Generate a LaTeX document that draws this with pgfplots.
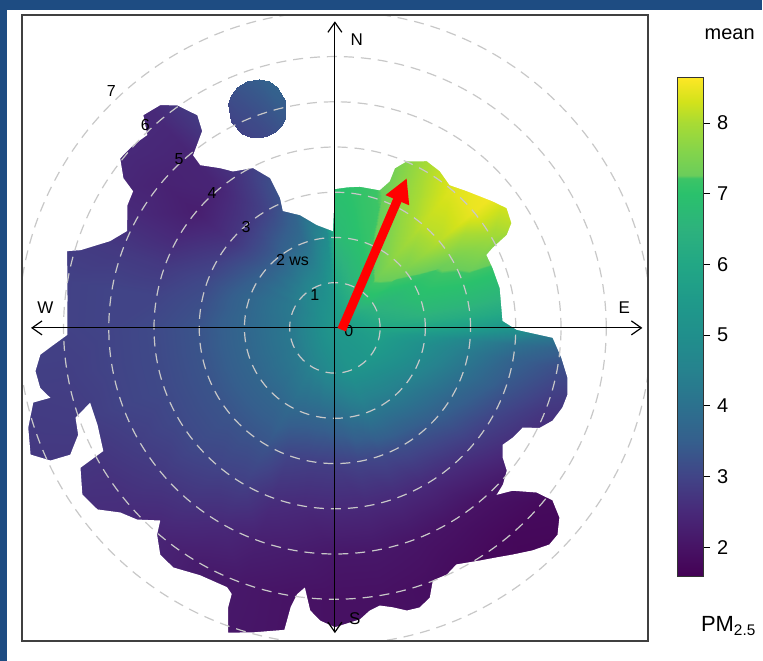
\documentclass[border=0pt]{standalone}
\usepackage{fontspec}
\setmainfont{Liberation Sans}
\usepackage{pgfplots}
\pgfplotsset{compat=1.18}
\usetikzlibrary{arrows.meta}
\definecolor{frameblue}{RGB}{30,76,130}
\definecolor{gridgray}{RGB}{200,200,200}
\pgfplotsset{colormap={pm}{
 rgb255(0pt)=(68,1,84)
 rgb255(42pt)=(71,19,101)
 rgb255(92pt)=(72,41,121)
 rgb255(142pt)=(65,68,135)
 rgb255(192pt)=(53,95,141)
 rgb255(242pt)=(44,113,142)
 rgb255(292pt)=(38,130,142)
 rgb255(342pt)=(32,143,140)
 rgb255(392pt)=(31,154,138)
 rgb255(442pt)=(34,167,133)
 rgb255(492pt)=(45,178,125)
 rgb255(542pt)=(42,193,108)
 rgb255(564pt)=(60,196,102)
 rgb255(568pt)=(106,205,91)
 rgb255(602pt)=(132,212,75)
 rgb255(642pt)=(168,219,52)
 rgb255(672pt)=(210,226,27)
 rgb255(706pt)=(253,231,37)
}}
\begin{document}
\begin{tikzpicture}
\fill[white] (0,0) rectangle (381.5pt,331pt);
\fill[frameblue] (0,0) rectangle (3.5pt,331pt);
\fill[frameblue] (0,326pt) rectangle (381.5pt,331pt);
\begin{axis}[
 at={(11pt,10pt)}, anchor=south west,
 width=313.5pt, height=313.5pt, scale only axis,
 view={0}{90}, hide axis,
 xmin=-6.92, xmax=6.92, ymin=-6.92, ymax=6.92, zmin=-1, zmax=1,
 colormap name=pm, point meta min=1.58, point meta max=8.64,
 colorbar,
 colorbar style={
  at={(parent axis.north east)}, anchor=north west,
  xshift=6.35pt, yshift=-31.5pt,
  width=12.8pt, height=250pt, scale only axis,
  ytick={2,3,4,5,6,7,8}, ytick pos=right,
  tick align=outside, major tick length=3.5pt,
  yticklabel style={font=\fontsize{10}{12}\selectfont, /pgf/number format/assume math mode=true},
  axis line style={draw=black!80, line width=0.5pt},
  tick style={black, line width=0.6pt},
 },
]
% concentration field: compass angle t (deg), wind speed r, mean PM2.5 v
\addplot3[surf, shader=interp, mark=none, point meta=explicit]
 table[x expr={\thisrow{r}*sin(\thisrow{t})}, y expr={\thisrow{r}*cos(\thisrow{t})}, z expr=0, meta=v] {
t r v
0 0 5.4
0 1 6.0
0 2 6.7
0 3 6.95
0 4 7.0
0 5 7.0
0 6 7.0
0 7.5 7.0

5 0 5.4
5 1 6.15
5 2 6.8
5 3 7.0
5 4 7.1
5 5 7.1
5 6 7.1
5 7.5 7.1

10 0 5.4
10 1 6.3
10 2 6.9
10 3 7.1
10 4 7.15
10 5 7.2
10 6 7.2
10 7.5 7.2

20 0 5.4
20 1 6.5
20 2 7.1
20 3 7.25
20 4 7.45
20 5 7.5
20 6 7.5
20 7.5 7.5

30 0 5.4
30 1 6.7
30 2 7.4
30 3 7.8
30 4 8.0
30 5 8.1
30 6 8.1
30 7.5 8.1

40 0 5.4
40 1 7.0
40 2 7.7
40 3 8.15
40 4 8.4
40 5 8.5
40 6 8.5
40 7.5 8.5

50 0 5.4
50 1 6.9
50 2 7.45
50 3 8.1
50 4 8.5
50 5 8.6
50 6 8.6
50 7.5 8.6

60 0 5.4
60 1 6.6
60 2 7.0
60 3 7.4
60 4 7.9
60 5 8.3
60 6 8.4
60 7.5 8.4

70 0 5.4
70 1 6.4
70 2 6.9
70 3 7.05
70 4 7.1
70 5 7.2
70 6 7.2
70 7.5 7.2

80 0 5.4
80 1 6.2
80 2 6.6
80 3 6.6
80 4 6.5
80 5 6.3
80 6 6.3
80 7.5 6.3

85 0 5.4
85 1 6.1
85 2 6.3
85 3 6.2
85 4 6.0
85 5 5.6
85 6 5.5
85 7.5 5.5

90 0 5.4
90 1 5.95
90 2 5.85
90 3 5.6
90 4 5.2
90 5 4.6
90 6 4.3
90 7.5 4.2

95 0 5.4
95 1 5.8
95 2 5.3
95 3 4.6
95 4 4.0
95 5 3.6
95 6 3.4
95 7.5 3.4

100 0 5.4
100 1 5.7
100 2 5.0
100 3 4.3
100 4 3.6
100 5 3.2
100 6 3.0
100 7.5 3.0

110 0 5.4
110 1 5.6
110 2 4.8
110 3 4.0
110 4 3.3
110 5 2.8
110 6 2.6
110 7.5 2.6

120 0 5.4
120 1 5.5
120 2 4.6
120 3 3.7
120 4 3.0
120 5 2.5
120 6 2.2
120 7.5 2.1

130 0 5.4
130 1 5.4
130 2 4.4
130 3 3.5
130 4 2.8
130 5 2.2
130 6 1.8
130 7.5 1.7

140 0 5.4
140 1 5.3
140 2 4.3
140 3 3.3
140 4 2.6
140 5 2.0
140 6 1.75
140 7.5 1.65

150 0 5.4
150 1 5.25
150 2 4.2
150 3 3.2
150 4 2.5
150 5 2.0
150 6 1.8
150 7.5 1.8

160 0 5.4
160 1 5.2
160 2 4.2
160 3 3.1
160 4 2.5
160 5 2.05
160 6 1.9
160 7.5 1.9

170 0 5.4
170 1 5.05
170 2 4.0
170 3 3.0
170 4 2.5
170 5 2.1
170 6 1.95
170 7.5 1.95

180 0 5.4
180 1 4.9
180 2 3.8
180 3 2.9
180 4 2.5
180 5 2.1
180 6 1.95
180 7.5 1.95

190 0 5.4
190 1 4.75
190 2 3.7
190 3 2.9
190 4 2.5
190 5 2.2
190 6 2.0
190 7.5 2.0

200 0 5.4
200 1 4.6
200 2 3.7
200 3 3.0
200 4 2.6
200 5 2.3
200 6 2.1
200 7.5 2.1

210 0 5.4
210 1 4.5
210 2 3.8
210 3 3.3
210 4 2.9
210 5 2.5
210 6 2.2
210 7.5 2.2

220 0 5.4
220 1 4.4
220 2 3.7
220 3 3.3
220 4 3.0
220 5 2.7
220 6 2.4
220 7.5 2.4

230 0 5.4
230 1 4.3
230 2 3.7
230 3 3.3
230 4 3.1
230 5 2.8
230 6 2.6
230 7.5 2.5

240 0 5.4
240 1 4.25
240 2 3.7
240 3 3.3
240 4 3.1
240 5 2.9
240 6 2.7
240 7.5 2.7

250 0 5.4
250 1 4.2
250 2 3.7
250 3 3.3
250 4 3.1
250 5 3.0
250 6 2.85
250 7.5 2.8

260 0 5.4
260 1 4.2
260 2 3.7
260 3 3.3
260 4 3.1
260 5 3.0
260 6 2.9
260 7.5 2.9

270 0 5.4
270 1 4.2
270 2 3.7
270 3 3.3
270 4 3.1
270 5 3.0
270 6 2.95
270 7.5 2.9

280 0 5.4
280 1 4.2
280 2 3.7
280 3 3.2
280 4 3.0
280 5 3.0
280 6 2.95
280 7.5 2.9

290 0 5.4
290 1 4.25
290 2 3.7
290 3 3.1
290 4 2.8
290 5 2.8
290 6 2.8
290 7.5 2.8

300 0 5.4
300 1 4.3
300 2 3.6
300 3 2.9
300 4 2.5
300 5 2.5
300 6 2.5
300 7.5 2.5

310 0 5.4
310 1 4.45
310 2 3.5
310 3 2.7
310 4 2.25
310 5 2.35
310 6 2.5
310 7.5 2.5

320 0 5.4
320 1 4.6
320 2 3.5
320 3 2.8
320 4 2.4
320 5 2.4
320 6 2.5
320 7.5 2.5

330 0 5.4
330 1 4.75
330 2 3.7
330 3 3.0
330 4 2.8
330 5 2.9
330 6 3.0
330 7.5 3.0

340 0 5.4
340 1 4.85
340 2 3.9
340 3 3.4
340 4 3.2
340 5 3.2
340 6 3.2
340 7.5 3.2

350 0 5.4
350 1 5.1
350 2 4.6
350 3 4.0
350 4 3.6
350 5 3.5
350 6 3.5
350 7.5 3.5

355 0 5.4
355 1 5.3
355 2 4.9
355 3 4.4
355 4 4.0
355 5 3.8
355 6 3.8
355 7.5 3.8

360 0 5.4
360 1 6.0
360 2 6.7
360 3 6.95
360 4 7.0
360 5 7.0
360 6 7.0
360 7.5 7.0
};
% outline of the data region (everything outside is white)
\addplot3[fill=white, draw=none, mark=none, even odd rule]
 table[x expr={\thisrow{r}*sin(\thisrow{t})}, y expr={\thisrow{r}*cos(\thisrow{t})}, z expr=0] {
t r
0 3.07
5 3.12
10 3.17
18 3.20
20.5 3.46
20.6 3.77
23.3 4.01
28.9 4.21
33.8 4.17
38.8 4.05
43.9 4.20
51.2 4.47
55.1 4.63
59.3 4.54
61.6 4.32
63.1 3.91
64.3 3.72
69.2 3.73
76.4 3.75
87.6 3.71
90.6 4.02
92.6 4.82
97.5 5.05
102.1 5.26
106 5.35
109.3 5.33
113.1 5.23
116 5.04
118 4.70
121.7 4.62
124.9 4.52
127.7 4.69
129.7 4.94
133 5.08
135.9 5.14
132.5 5.33
129.2 5.76
128.4 6.14
130.2 6.50
132.9 6.72
135.3 6.74
138.4 6.58
141.9 6.37
144.8 6.21
148.1 6.06
152.8 5.88
155.6 5.99
158.8 5.99
160.6 6.32
163.1 6.46
165.7 6.45
168.3 6.31
170.8 6.22
173 6.30
175.1 6.47
180 6.62
182.9 6.48
185 6.27
186.6 5.78
188.1 5.95
189 6.25
189.5 6.77
195 6.97
199.3 7.14
200.9 6.62
201.2 6.31
202.6 6.21
208.6 6.23
214 6.39
217.6 6.33
220.7 6.03
222.2 5.75
225.9 6.09
229.3 6.26
232.6 6.61
236.6 6.69
241.2 6.42
242 5.80
247.8 5.67
253 5.66
250.9 6.07
247.4 6.15
244.4 6.49
245 6.94
247.4 7.29
252 7.13
256.1 6.87
256.2 6.48
258.5 6.65
261.8 6.69
264.8 6.54
266.5 6.24
268.5 5.92
276.4 5.95
286 6.16
287 5.88
291.1 5.33
295 5.07
300.6 5.33
304.1 5.39
305.3 5.73
308.3 6.05
312.2 6.02
315.8 5.95
318 6.33
321.9 6.26
324.7 6.03
327.1 5.60
326 5.25
320.6 4.94
320.4 4.67
324.3 4.35
326.9 4.13
332.9 3.97
336.6 3.61
337.1 3.12
336 2.83
342.8 2.61
350 2.31
358.8 2.14
360 3.07
360 12
330 12
300 12
270 12
240 12
210 12
180 12
150 12
120 12
90 12
60 12
30 12
0 12
};
% detached cell to the north-north-west
\addplot3[surf, shader=interp, mark=none, point meta=explicit]
 table[x expr={\thisrow{r}*sin(\thisrow{t})}, y expr={\thisrow{r}*cos(\thisrow{t})}, z expr=0, meta=v] {
t r v
333.25 5.11 3.0
333.25 5.11 3.0
333.25 5.11 3.0

334.5 4.758 3.0
334.5 5.122 3.05
334.5 5.486 3.1

336 4.625 3.0
336 5.134 3.1
336 5.643 3.2

338 4.535 3.05
338 5.145 3.15
338 5.755 3.3

340.5 4.5 3.1
340.5 5.15 3.25
340.5 5.8 3.4

343 4.535 3.2
343 5.145 3.35
343 5.755 3.5

345 4.625 3.3
345 5.134 3.45
345 5.643 3.6

346.5 4.758 3.35
346.5 5.122 3.5
346.5 5.486 3.6

347.75 5.11 3.45
347.75 5.11 3.45
347.75 5.11 3.45
};
\pgfplotsinvokeforeach{1,...,7}{
 \draw[gridgray, line width=0.6pt, dash pattern=on 5pt off 3.5pt] (axis cs:0,0,0) circle[radius=#1*22.652pt];
}
\draw[black, line width=0.6pt, {Straight Barb[length=5pt,width=7pt]}-{Straight Barb[length=5pt,width=7pt]}] (axis cs:0,-6.75,0) -- (axis cs:0,6.78,0);
\draw[black, line width=0.6pt, {Straight Barb[length=5pt,width=7pt]}-{Straight Barb[length=5pt,width=7pt]}] (axis cs:-6.72,0,0) -- (axis cs:6.8,0,0);
\node[font=\fontsize{8.5}{10}\selectfont] at (axis cs:0.486,6.38,0) {N};
\node[font=\fontsize{8.5}{10}\selectfont] at (axis cs:0.441,-6.42,0) {S};
\node[font=\fontsize{8.5}{10}\selectfont] at (axis cs:-6.40,0.44,0) {W};
\node[font=\fontsize{8.5}{10}\selectfont] at (axis cs:6.40,0.44,0) {E};
\node[font=\fontsize{8}{10}\selectfont] at (axis cs:-4.945,5.232,0) {7};
\node[font=\fontsize{8}{10}\selectfont] at (axis cs:-4.194,4.481,0) {6};
\node[font=\fontsize{8}{10}\selectfont] at (axis cs:-3.444,3.731,0) {5};
\node[font=\fontsize{8}{10}\selectfont] at (axis cs:-2.715,2.980,0) {4};
\node[font=\fontsize{8}{10}\selectfont] at (axis cs:-1.965,2.230,0) {3};
\node[font=\fontsize{8}{10}\selectfont] at (axis cs:-0.938,1.501,0) {2 ws};
\node[font=\fontsize{8}{10}\selectfont] at (axis cs:-0.442,0.728,0) {1};
\node[font=\fontsize{8}{10}\selectfont] at (axis cs:0.309,-0.066,0) {0};
\addplot3[red, line width=4.5pt, mark=none, -{Triangle[length=12pt,width=12pt]}] coordinates {(0.15,-0.04,0) (1.59,3.31,0)};
\end{axis}
\draw[black!75, line width=0.8pt] (11pt,10pt) rectangle (324.5pt,323.5pt);
\node[anchor=base, font=\fontsize{10}{12}\selectfont] at (365.5pt,311pt) {mean};
\node[anchor=base, font=\fontsize{11}{13}\selectfont] at (365pt,14.5pt) {PM\textsubscript{2.5}};
\end{tikzpicture}
\end{document}
